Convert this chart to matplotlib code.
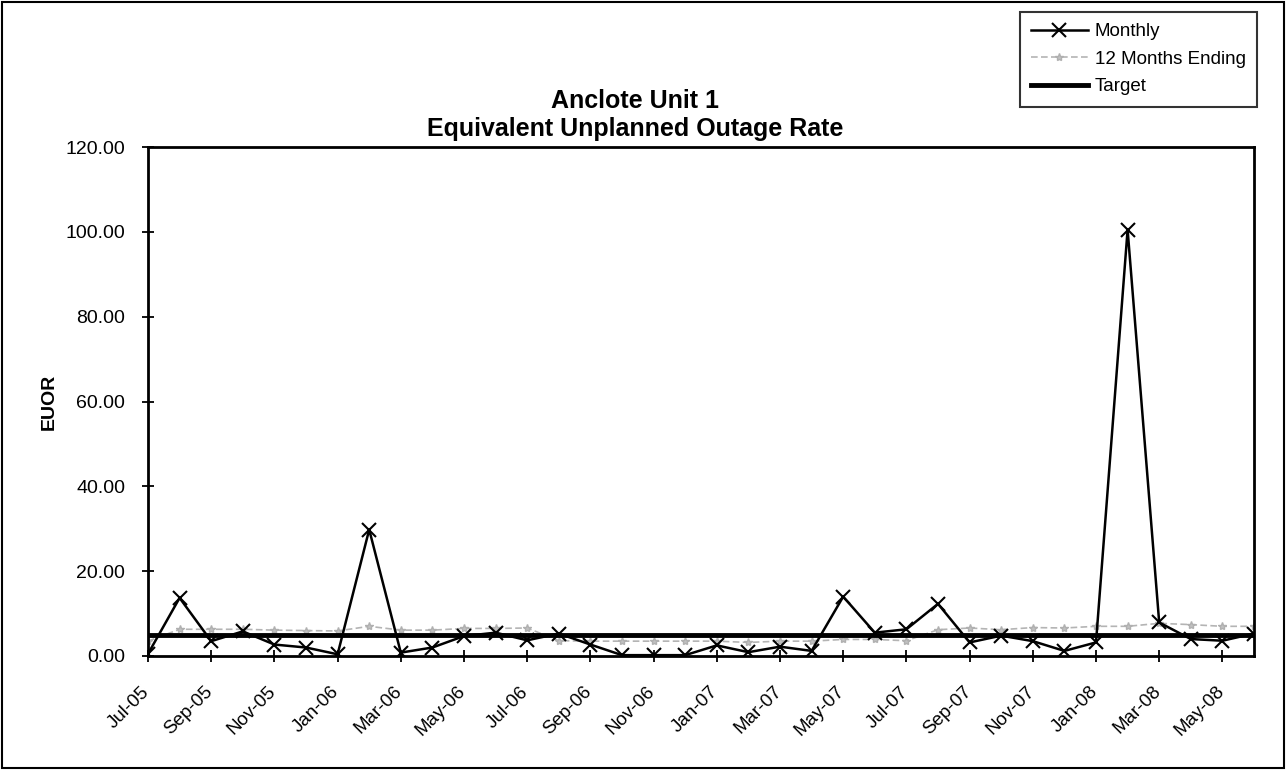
import matplotlib
matplotlib.use('Agg')
import matplotlib.pyplot as plt
from matplotlib.patches import Rectangle
from matplotlib.transforms import ScaledTranslation

plt.rcParams['font.family'] = ['Liberation Sans', 'DejaVu Sans']

months = ['Jul-05', 'Aug-05', 'Sep-05', 'Oct-05', 'Nov-05', 'Dec-05',
          'Jan-06', 'Feb-06', 'Mar-06', 'Apr-06', 'May-06', 'Jun-06',
          'Jul-06', 'Aug-06', 'Sep-06', 'Oct-06', 'Nov-06', 'Dec-06',
          'Jan-07', 'Feb-07', 'Mar-07', 'Apr-07', 'May-07', 'Jun-07',
          'Jul-07', 'Aug-07', 'Sep-07', 'Oct-07', 'Nov-07', 'Dec-07',
          'Jan-08', 'Feb-08', 'Mar-08', 'Apr-08', 'May-08', 'Jun-08']

monthly = [0.5, 13.7, 3.5, 5.8, 2.7, 2.0,
           0.4, 29.8, 0.8, 2.0, 4.7, 5.5,
           3.7, 5.3, 2.7, 0.2, 0.2, 0.2,
           2.5, 0.9, 2.2, 1.2, 14.0, 5.5,
           6.3, 12.3, 3.2, 4.8, 3.5, 1.2,
           3.2, 100.5, 7.9, 4.0, 3.6, 5.3]

twelve_months = [3.5, 6.3, 6.3, 6.3, 6.1, 6.0,
                 5.9, 7.0, 6.1, 6.1, 6.5, 6.5,
                 6.6, 3.6, 3.5, 3.5, 3.5, 3.5,
                 3.5, 3.2, 3.5, 3.5, 3.9, 3.9,
                 3.6, 6.2, 6.6, 6.2, 6.7, 6.6,
                 7.0, 7.0, 7.7, 7.4, 7.0, 7.0]

target = [5.0] * len(months)

yticks = [0, 20, 40, 60, 80, 100, 120]

fig = plt.figure(figsize=(12.86, 7.71), dpi=100)
fig.patch.set_facecolor('white')
ax = fig.add_axes([148 / 1286, 1 - 656 / 771, (1254 - 148) / 1286, (656 - 147) / 771])

x = list(range(len(months)))

ax.plot(x, twelve_months, color='#b4b4b4', lw=1.2, ls=(0, (4, 2)),
        marker='*', ms=6, mfc='#c0c0c0', mec='#b0b0b0', label='12 Months Ending', zorder=2)
ax.plot(x, target, color='black', lw=3.5, label='Target', zorder=3)
ax.plot(x, monthly, color='black', lw=1.8, marker='x', ms=10, mew=1.5,
        label='Monthly', zorder=4)

ax.set_xlim(0, len(months) - 1)
ax.set_ylim(0, 120)
ax.set_yticks(yticks)
ax.set_yticklabels(['%.2f' % v for v in yticks], fontsize=14)
ax.set_xticks(x[::2])
ax.set_xticklabels(months[::2], rotation=45, ha='right', va='top',
                   fontsize=13.5)
ax.tick_params(axis='both', direction='inout', length=9, width=1.3, color='black')
ax.tick_params(axis='y', pad=12)
ax.tick_params(axis='x', pad=15)
shift = ScaledTranslation(5 / 100, 0, fig.dpi_scale_trans)
for lab in ax.get_xticklabels():
    lab.set_transform(lab.get_transform() + shift)
for s in ax.spines.values():
    s.set_linewidth(2)
    s.set_color('black')

ax.set_ylabel('EUOR', fontsize=14, fontweight='bold')
ax.yaxis.set_label_coords((58 - 148) / 1106, 0.5)

fig.text(635 / 1286, 1 - 101 / 771, 'Anclote Unit 1', ha='center', va='center',
         fontsize=18, fontweight='bold')
fig.text(635 / 1286, 1 - 129 / 771, 'Equivalent Unplanned Outage Rate', ha='center',
         va='center', fontsize=18, fontweight='bold')

handles, labels = ax.get_legend_handles_labels()
order = [2, 0, 1]
leg = fig.legend([handles[i] for i in order], [labels[i] for i in order],
                 loc='upper left', bbox_to_anchor=(1020 / 1286, 1 - 12 / 771),
                 fontsize=13.5, frameon=True, fancybox=False, borderaxespad=0,
                 handlelength=3.0, labelspacing=0.55, borderpad=0.6,
                 handletextpad=0.4)
leg.get_frame().set_edgecolor('black')
leg.get_frame().set_linewidth(1.5)

fig.patches.append(Rectangle((2 / 1286, 3 / 771), 1282 / 1286, 766 / 771,
                             transform=fig.transFigure, fill=False,
                             edgecolor='black', lw=1.5))

fig.savefig('out.png', dpi=100, facecolor='white')
